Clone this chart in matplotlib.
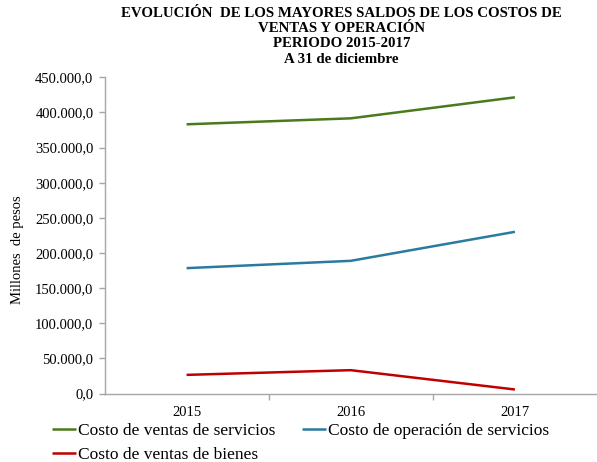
import matplotlib.pyplot as plt
from matplotlib.ticker import FuncFormatter, FixedLocator

years = ['2015', '2016', '2017']
servicios_ventas = [383100, 391600, 421500]
servicios_operacion = [178400, 188800, 230100]
bienes_ventas = [26500, 33200, 5700]

labels = ['Costo de ventas de servicios', 'Costo de operación de servicios',
          'Costo de ventas de bienes']
colors = ['#4a7a1c', '#2b7a9f', '#c00000']

plt.rcParams['font.family'] = ['Liberation Serif', 'DejaVu Serif']

fig = plt.figure(figsize=(5.97, 4.62), dpi=100)
ax = fig.add_axes([104.5 / 597, 1 - 393.5 / 462, 1 - 104.5 / 597, (393.5 - 77.3) / 462])

x = range(len(years))
lines = []
for vals, lab, col in zip([servicios_ventas, servicios_operacion, bienes_ventas], labels, colors):
    ln, = ax.plot(x, vals, color=col, lw=1.8, label=lab, solid_capstyle='butt')
    lines.append(ln)

ax.set_xlim(-0.5, 2.5)
ax.set_ylim(0, 450000)
ax.set_yticks(range(0, 450001, 50000))


def fmt(v, pos):
    s = f'{v:,.1f}'
    return s.replace(',', 'X').replace('.', ',').replace('X', '.')


ax.yaxis.set_major_formatter(FuncFormatter(fmt))
ax.set_xticks(list(x))
ax.set_xticklabels(years)
ax.xaxis.set_minor_locator(FixedLocator([0.5, 1.5]))
ax.tick_params(axis='x', which='major', length=0, pad=9, labelsize=10.5)
ax.tick_params(axis='x', which='minor', length=4, color='#a6a6a6', width=1)
ax.tick_params(axis='y', length=4, color='#a6a6a6', width=1, labelsize=10.5, pad=4)

for side in ['top', 'right']:
    ax.spines[side].set_visible(False)
for side in ['left', 'bottom']:
    ax.spines[side].set_color('#a6a6a6')
    ax.spines[side].set_linewidth(1)

fig.text(18 / 597, 1 - 250 / 462, 'Millones  de pesos', rotation=90, ha='center',
         va='center', fontsize=10.5)

fig.text(341.5 / 597, 1 - 7 / 462,
         'EVOLUCIÓN  DE LOS MAYORES SALDOS DE LOS COSTOS DE\nVENTAS Y OPERACIÓN\n'
         'PERIODO 2015-2017\nA 31 de diciembre',
         ha='center', va='top', fontsize=10.75, fontweight='bold', linespacing=1.22)

# legend fills column-wise, so order entries to read row by row
order = [0, 2, 1]
fig.legend([lines[i] for i in order], [labels[i] for i in order],
           loc='upper left', bbox_to_anchor=(52 / 597, 1 - 423 / 462), ncol=2,
           frameon=False, fontsize=12.5, handlelength=1.38, handletextpad=0.12,
           columnspacing=1.55, labelspacing=0.47, borderaxespad=0, borderpad=0)

fig.savefig('out.png', dpi=100)
